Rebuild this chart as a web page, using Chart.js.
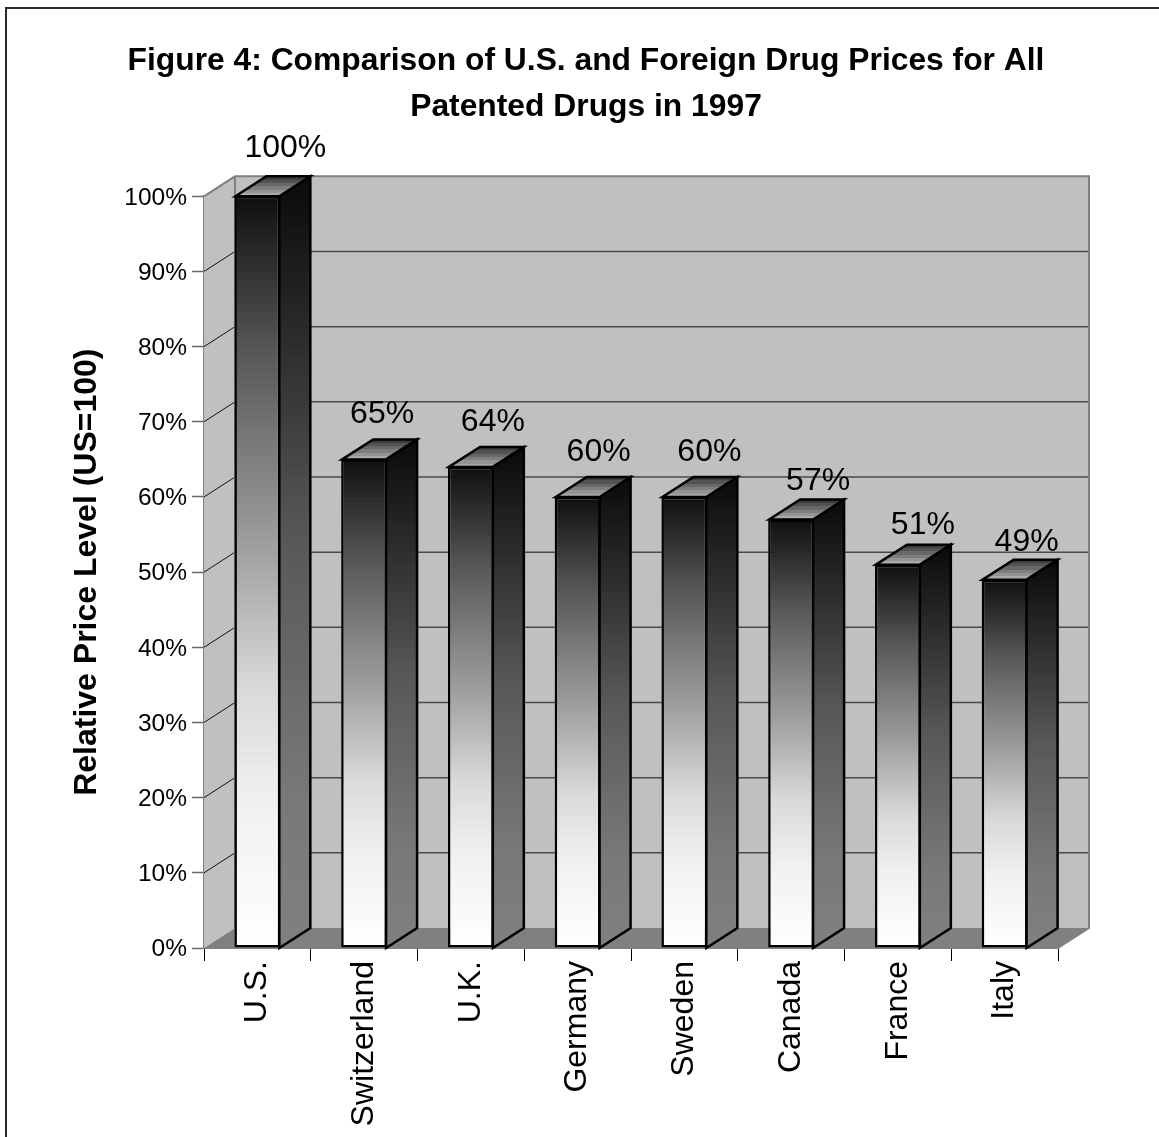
<!DOCTYPE html>
<html>
<head>
<meta charset="utf-8">
<style>
  html, body { margin: 0; padding: 0; background: #fff; }
  canvas { display: block; }
</style>
<script src="https://cdn.jsdelivr.net/npm/chart.js@4/dist/chart.umd.min.js"></script>
</head>
<body>
<canvas id="chart" width="1159" height="1137"></canvas>
<script>
// Price levels relative to the U.S. (percent)
const countries = ['U.S.', 'Switzerland', 'U.K.', 'Germany', 'Sweden', 'Canada', 'France', 'Italy'];
const priceLevels = [100, 65, 64, 60, 60, 57, 51, 49];
const titleLines = ['Figure 4: Comparison of U.S. and Foreign Drug Prices for All', 'Patented Drugs in 1997'];
const axisTitle = 'Relative Price Level (US=100)';

// Hand placement of each value label relative to the top of its bar
const labelNudgeX = [28, 18, 22, 21, 25, 27, 25, 22];
const labelNudgeY = [-48, -45, -45, -45, -45, -38, -39, -38];

const FONT = '"Liberation Sans", Arial, sans-serif';
const DEPTH_X = 31;   // horizontal reach of the 3D box
const DEPTH_Y = 20;   // vertical reach of the 3D box

// Greys sampled along a bar, top to bottom, as [position, grey level]
const frontRamp = [[0, 15], [0.21, 88], [0.47, 160], [0.65, 216], [0.8, 240], [1, 255]];
const sideRamp = [[0, 10], [0.21, 44], [0.47, 88], [0.8, 120], [1, 128]];
const topRamp = [[0, 50], [1, 180]];

function rampAt(ramp, t) {
  for (let i = 1; i < ramp.length; i++) {
    if (t <= ramp[i][0]) {
      const a = ramp[i - 1], b = ramp[i];
      return a[1] + (b[1] - a[1]) * (t - a[0]) / (b[0] - a[0]);
    }
  }
  return ramp[ramp.length - 1][1];
}

// Stepped vertical gradient, giving the faces their banded shading
function bandedGradient(ctx, y0, y1, ramp, steps) {
  const g = ctx.createLinearGradient(0, y0, 0, y1);
  for (let i = 0; i < steps; i++) {
    const v = Math.round(rampAt(ramp, (i + 0.5) / steps));
    const c = `rgb(${v},${v},${v})`;
    g.addColorStop(i / steps, c);
    g.addColorStop((i + 1) / steps, c);
  }
  return g;
}

function polygon(ctx, pts, fill, stroke, width) {
  ctx.beginPath();
  pts.forEach((p, i) => i ? ctx.lineTo(p[0], p[1]) : ctx.moveTo(p[0], p[1]));
  ctx.closePath();
  if (fill) { ctx.fillStyle = fill; ctx.fill(); }
  if (stroke) { ctx.strokeStyle = stroke; ctx.lineWidth = width; ctx.lineJoin = 'miter'; ctx.stroke(); }
}

// Page frame, back wall, side wall, floor and wall gridlines
const roomPlugin = {
  id: 'room',
  afterLayout(chart) {
    // centre the heading a little right of the padded box
    chart.titleBlock.left = 0;
    chart.titleBlock.right = 1172;
  },
  beforeDraw(chart) {
    const ctx = chart.ctx;
    ctx.save();
    ctx.fillStyle = '#fff';
    ctx.fillRect(0, 0, chart.width, chart.height);
    ctx.strokeStyle = '#2a2a2a';
    ctx.lineWidth = 2;
    ctx.beginPath();
    ctx.moveTo(6, chart.height);
    ctx.lineTo(6, 8);
    ctx.lineTo(chart.width, 8);
    ctx.stroke();
    ctx.restore();
  },
  beforeDatasetsDraw(chart) {
    const { ctx, scales: { y }, chartArea: a } = chart;
    const dx = DEPTH_X, dy = DEPTH_Y;
    ctx.save();
    polygon(ctx, [[a.left + dx, a.top - dy], [a.right + dx, a.top - dy], [a.right + dx, a.bottom - dy], [a.left + dx, a.bottom - dy]], '#c0c0c0');
    polygon(ctx, [[a.left, a.top], [a.left + dx, a.top - dy], [a.left + dx, a.bottom - dy], [a.left, a.bottom]], '#c0c0c0');
    polygon(ctx, [[a.left, a.bottom], [a.left + dx, a.bottom - dy], [a.right + dx, a.bottom - dy], [a.right, a.bottom]], '#808080');

    y.ticks.forEach(t => {
      const py = y.getPixelForValue(t.value);
      if (t.value > 0 && t.value < 100) {
        ctx.strokeStyle = '#4a4a4a';
        ctx.lineWidth = 1.5;
        ctx.beginPath();
        ctx.moveTo(a.left + dx, py - dy);
        ctx.lineTo(a.right + dx, py - dy);
        ctx.stroke();
        ctx.strokeStyle = '#111';
        ctx.lineWidth = 1;
        ctx.beginPath();
        ctx.moveTo(a.left, py);
        ctx.lineTo(a.left + dx, py - dy);
        ctx.stroke();
      }
    });

    // wall outlines
    ctx.strokeStyle = '#808080';
    ctx.lineWidth = 2;
    ctx.beginPath();
    ctx.moveTo(a.left, a.top);
    ctx.lineTo(a.left + dx, a.top - dy);
    ctx.lineTo(a.right + dx, a.top - dy);
    ctx.lineTo(a.right + dx, a.bottom - dy);
    ctx.lineTo(a.right, a.bottom);
    ctx.moveTo(a.left + dx, a.top - dy);
    ctx.lineTo(a.left + dx, a.bottom - dy);
    ctx.stroke();
    ctx.restore();
  },
  // Side and top faces of each bar, then the value labels
  afterDatasetsDraw(chart) {
    const { ctx, scales: { y } } = chart;
    const meta = chart.getDatasetMeta(0);
    const dx = DEPTH_X, dy = DEPTH_Y;
    ctx.save();
    meta.data.forEach((bar, i) => {
      const half = bar.width / 2;
      const l = bar.x - half + 1, r = bar.x + half - 1;
      const t = bar.y, b = y.getPixelForValue(0);
      polygon(ctx, [[r, t], [r + dx, t - dy], [r + dx, b - dy], [r, b]],
        bandedGradient(ctx, t - dy, b, sideRamp, 90), '#000', 2.5);
      polygon(ctx, [[l, t], [l + dx, t - dy], [r + dx, t - dy], [r, t]],
        bandedGradient(ctx, t - dy, t, topRamp, 6), '#000', 2.5);
      ctx.fillStyle = '#000';
      ctx.font = `32px ${FONT}`;
      ctx.textAlign = 'center';
      ctx.textBaseline = 'middle';
      ctx.fillText(priceLevels[i] + '%', bar.x + labelNudgeX[i], t + labelNudgeY[i]);
    });
    ctx.restore();
  }
};

new Chart(document.getElementById('chart'), {
  type: 'bar',
  plugins: [roomPlugin],
  data: {
    labels: countries,
    datasets: [{
      data: priceLevels,
      categoryPercentage: 0.43,
      barPercentage: 1,
      borderColor: '#000',
      borderWidth: 2.5,
      borderSkipped: false,
      backgroundColor(c) {
        const { chart, parsed } = c;
        if (!parsed || !chart.scales.y) return '#888';
        const s = chart.scales.y;
        const top = s.getPixelForValue(parsed.y), base = s.getPixelForValue(0);
        if (!Number.isFinite(top) || !Number.isFinite(base)) return '#888';
        return bandedGradient(chart.ctx, top, base, frontRamp, 90);
      }
    }]
  },
  options: {
    responsive: false,
    animation: false,
    devicePixelRatio: 1,
    layout: { padding: { left: 68, right: 101, top: 39, bottom: 0 } },
    plugins: {
      legend: { display: false },
      tooltip: { enabled: false },
      title: {
        display: true,
        text: titleLines,
        color: '#000',
        font: { family: FONT, size: 31.8, weight: 'bold', lineHeight: 1.42 },
        padding: { top: 0, bottom: 67 }
      }
    },
    scales: {
      x: {
        offset: true,
        afterFit(s) { s.height = 189; },
        grid: { offset: true, drawOnChartArea: false, drawTicks: true, tickLength: 13, tickColor: '#000', tickWidth: 1 },
        border: { color: '#808080', width: 2 },
        ticks: {
          color: '#000', font: { family: FONT, size: 32 },
          minRotation: 90, maxRotation: 90, autoSkip: false, padding: 0
        }
      },
      y: {
        min: 0,
        max: 100,
        afterFit(s) { s.width = 136; },
        grid: { drawOnChartArea: false, drawTicks: true, tickLength: 12, tickColor: '#666', tickWidth: 1.5 },
        border: { color: '#808080', width: 2 },
        title: {
          display: true,
          text: axisTitle,
          color: '#000',
          font: { family: FONT, size: 32, weight: 'bold' },
          padding: 0
        },
        ticks: {
          stepSize: 10,
          padding: 5,
          labelOffset: 1.5,
          color: '#000',
          font: { family: FONT, size: 24.5 },
          callback: v => v + '%'
        }
      }
    }
  }
});
</script>
</body>
</html>
